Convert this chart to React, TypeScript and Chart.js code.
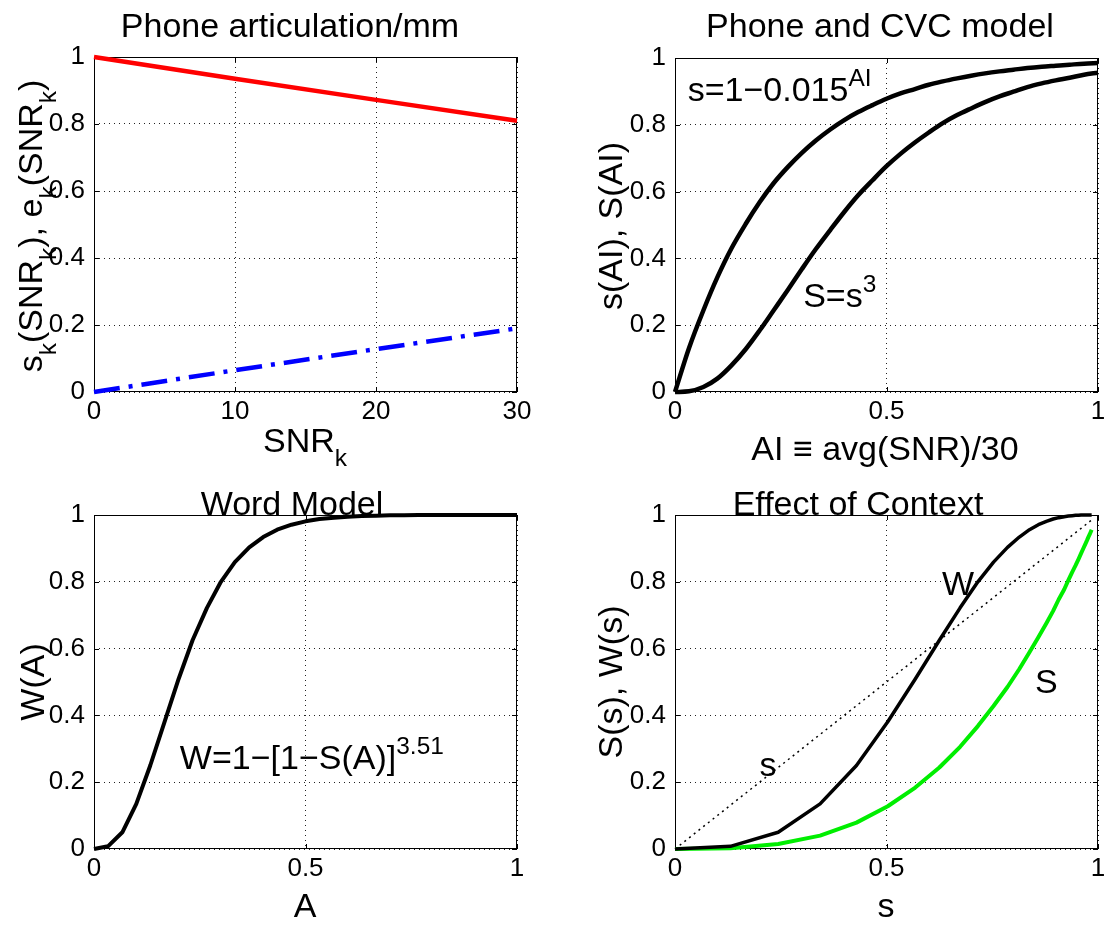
import React, { useEffect, useRef } from "react";
import { Chart, registerables } from "chart.js";

Chart.register(...registerables);

const FONT = '"Liberation Sans", Arial, Helvetica, sans-serif';

// ---- Panel 1: phone articulation vs SNR_k ----
const snrValues = [0, 10, 20, 30];
const phoneScore = [1.0, 0.935, 0.872, 0.81];
const phoneError = [0.0, 0.065, 0.128, 0.19];

// ---- Shared AI grid and model curves ----
const aiValues = [0, 0.033, 0.067, 0.1, 0.133, 0.167, 0.2, 0.233, 0.267, 0.3, 0.333, 0.367, 0.4, 0.433, 0.467, 0.5, 0.533, 0.567, 0.6, 0.633, 0.667, 0.7, 0.733, 0.767, 0.8, 0.833, 0.867, 0.9, 0.933, 0.967, 1];
const phoneModel = [0, 0.131, 0.244, 0.343, 0.429, 0.503, 0.568, 0.625, 0.674, 0.716, 0.753, 0.786, 0.814, 0.838, 0.859, 0.878, 0.894, 0.907, 0.92, 0.93, 0.939, 0.947, 0.954, 0.96, 0.965, 0.97, 0.974, 0.977, 0.98, 0.983, 0.985];
const cvcModel = [0, 0.002, 0.015, 0.04, 0.079, 0.128, 0.184, 0.244, 0.306, 0.368, 0.428, 0.485, 0.539, 0.589, 0.634, 0.676, 0.713, 0.747, 0.777, 0.805, 0.829, 0.849, 0.868, 0.885, 0.899, 0.913, 0.924, 0.933, 0.941, 0.95, 0.956];
const wordModel = [0, 0.008, 0.05, 0.135, 0.25, 0.381, 0.509, 0.625, 0.722, 0.8, 0.859, 0.903, 0.934, 0.956, 0.971, 0.981, 0.988, 0.992, 0.995, 0.997, 0.998, 0.999, 0.999, 1, 1, 1, 1, 1, 1, 1, 1];

// ---- Tick values ----
const yTicks = [0, 0.2, 0.4, 0.6, 0.8, 1];
const snrTicks = [0, 10, 20, 30];
const unitTicks = [0, 0.5, 1];

const W = 1106;
const H = 926;
const TICK_SIZE = 26;
const TEXT_SIZE = 34;

type Seg = { t: string; k?: "sub" | "sup" };
type Note = { segs: Seg[]; x: number; y: number };
type Panel = {
  box: { l: number; t: number; r: number; b: number };
  xMax: number;
  xTicks: number[];
  datasets: any[];
  title: { segs: Seg[]; cx: number; by: number };
  xLabel: { segs: Seg[]; cx: number; by: number };
  yLabel: { segs: Seg[]; bx: number; cy: number };
  notes: Note[];
};

const pts = (xs: number[], ys: number[]) => xs.map((x, i) => ({ x, y: ys[i] }));

const lineDs = (data: any[], color: string, width: number, extra: any = {}) => ({
  data,
  borderColor: color,
  backgroundColor: color,
  borderWidth: width,
  pointRadius: 0,
  fill: false,
  tension: 0,
  clip: false,
  borderJoinStyle: "round",
  ...extra,
});

const panels: Panel[] = [
  {
    box: { l: 94, t: 57, r: 517, b: 392 },
    xMax: 30,
    xTicks: snrTicks,
    datasets: [
      lineDs(pts(snrValues, phoneScore), "#ff0000", 4.5),
      lineDs(pts(snrValues, phoneError), "#0000ff", 4.5, { borderDash: [26, 9, 4, 9], borderCapStyle: "butt" }),
    ],
    title: { segs: [{ t: "Phone articulation/mm" }], cx: 290, by: 37 },
    xLabel: { segs: [{ t: "SNR" }, { t: "k", k: "sub" }], cx: 305, by: 452 },
    yLabel: {
      segs: [
        { t: "s" }, { t: "k", k: "sub" }, { t: "(SNR" }, { t: "k", k: "sub" }, { t: "), e" },
        { t: "k", k: "sub" }, { t: "(SNR" }, { t: "k", k: "sub" }, { t: ")" },
      ],
      bx: 42,
      cy: 226,
    },
    notes: [],
  },
  {
    box: { l: 675, t: 58, r: 1098, b: 392 },
    xMax: 1,
    xTicks: unitTicks,
    datasets: [
      lineDs(pts(aiValues, phoneModel), "#000000", 4.5, { cubicInterpolationMode: "monotone" }),
      lineDs(pts(aiValues, cvcModel), "#000000", 4.5, { cubicInterpolationMode: "monotone" }),
    ],
    title: { segs: [{ t: "Phone and CVC model" }], cx: 880, by: 37 },
    xLabel: { segs: [{ t: "AI \u2261 avg(SNR)/30" }], cx: 885, by: 460 },
    yLabel: { segs: [{ t: "s(AI), S(AI)" }], bx: 622, cy: 226 },
    notes: [
      { segs: [{ t: "s=1\u22120.015" }, { t: "AI", k: "sup" }], x: 0.03, y: 0.87 },
      { segs: [{ t: "S=s" }, { t: "3", k: "sup" }], x: 0.303, y: 0.255 },
    ],
  },
  {
    box: { l: 94, t: 515, r: 517, b: 849 },
    xMax: 1,
    xTicks: unitTicks,
    datasets: [lineDs(pts(aiValues, wordModel), "#000000", 4)],
    title: { segs: [{ t: "Word Model" }], cx: 292, by: 515 },
    xLabel: { segs: [{ t: "A" }], cx: 305, by: 917 },
    yLabel: { segs: [{ t: "W(A)" }], bx: 44, cy: 682 },
    notes: [{ segs: [{ t: "W=1\u2212[1\u2212S(A)]" }, { t: "3.51", k: "sup" }], x: 0.203, y: 0.24 }],
  },
  {
    box: { l: 675, t: 515, r: 1098, b: 849 },
    xMax: 1,
    xTicks: unitTicks,
    datasets: [
      lineDs(pts(phoneModel, wordModel), "#000000", 3.5),
      lineDs(pts(phoneModel, cvcModel), "#00ee00", 4),
      lineDs(pts(phoneModel, phoneModel), "#000000", 1.5, { borderDash: [2, 4], borderCapStyle: "butt" }),
    ],
    title: { segs: [{ t: "Effect of Context" }], cx: 858, by: 515 },
    xLabel: { segs: [{ t: "s" }], cx: 886, by: 917 },
    yLabel: { segs: [{ t: "S(s), W(s)" }], bx: 622, cy: 682 },
    notes: [
      { segs: [{ t: "W" }], x: 0.631, y: 0.76 },
      { segs: [{ t: "S" }], x: 0.851, y: 0.467 },
      { segs: [{ t: "s" }], x: 0.2, y: 0.22 },
    ],
  },
];

function drawSegs(ctx: CanvasRenderingContext2D, segs: Seg[], x: number, y: number, size: number, align: "left" | "center") {
  const small = size * 0.72;
  const fontFor = (s: Seg) => `${s.k ? small : size}px ${FONT}`;
  let total = 0;
  for (const s of segs) {
    ctx.font = fontFor(s);
    total += ctx.measureText(s.t).width;
  }
  let cx = align === "center" ? x - total / 2 : x;
  ctx.textAlign = "left";
  ctx.textBaseline = "alphabetic";
  for (const s of segs) {
    ctx.font = fontFor(s);
    const dy = s.k === "sub" ? size * 0.42 : s.k === "sup" ? -size * 0.45 : 0;
    ctx.fillText(s.t, cx, y + dy);
    cx += ctx.measureText(s.t).width;
  }
}

function framePlugin(p: Panel) {
  return {
    id: "matlabFrame",
    beforeDatasetsDraw(chart: any) {
      const { ctx, chartArea: a } = chart;
      const xs = chart.scales.x;
      const ys = chart.scales.y;
      ctx.save();
      ctx.setLineDash([]);
      ctx.strokeStyle = "#000";
      ctx.lineWidth = 1;
      ctx.strokeRect(a.left + 0.5, a.top + 0.5, a.right - a.left - 1, a.bottom - a.top - 1);
      const len = 5;
      ctx.beginPath();
      for (const v of p.xTicks) {
        const px = Math.round(xs.getPixelForValue(v)) + 0.5;
        ctx.moveTo(px, a.bottom);
        ctx.lineTo(px, a.bottom - len);
        ctx.moveTo(px, a.top);
        ctx.lineTo(px, a.top + len);
      }
      for (const v of yTicks) {
        const py = Math.round(ys.getPixelForValue(v)) + 0.5;
        ctx.moveTo(a.left, py);
        ctx.lineTo(a.left + len, py);
        ctx.moveTo(a.right, py);
        ctx.lineTo(a.right - len, py);
      }
      ctx.stroke();
      ctx.restore();
    },
    afterDraw(chart: any) {
      const { ctx } = chart;
      const xs = chart.scales.x;
      const ys = chart.scales.y;
      ctx.save();
      ctx.fillStyle = "#000";
      drawSegs(ctx, p.title.segs, p.title.cx, p.title.by, TEXT_SIZE, "center");
      drawSegs(ctx, p.xLabel.segs, p.xLabel.cx, p.xLabel.by, TEXT_SIZE, "center");
      ctx.save();
      ctx.translate(p.yLabel.bx, p.yLabel.cy);
      ctx.rotate(-Math.PI / 2);
      drawSegs(ctx, p.yLabel.segs, 0, 0, TEXT_SIZE, "center");
      ctx.restore();
      for (const n of p.notes) {
        drawSegs(ctx, n.segs, xs.getPixelForValue(n.x), ys.getPixelForValue(n.y), TEXT_SIZE, "left");
      }
      ctx.restore();
    },
  };
}

function buildConfig(p: Panel): any {
  const yAxisW = 60;
  const xAxisH = 40;
  const tickFont = { family: FONT, size: TICK_SIZE };
  return {
    type: "line",
    data: { datasets: p.datasets },
    options: {
      responsive: false,
      animation: false,
      events: [],
      layout: {
        padding: {
          left: p.box.l - yAxisW,
          top: p.box.t,
          right: W - p.box.r,
          bottom: H - p.box.b - xAxisH,
        },
      },
      plugins: {
        legend: { display: false },
        tooltip: { enabled: false },
        title: { display: false },
      },
      scales: {
        x: {
          type: "linear",
          min: 0,
          max: p.xMax,
          afterBuildTicks: (s: any) => {
            s.ticks = p.xTicks.map((v) => ({ value: v }));
          },
          afterFit: (s: any) => {
            s.height = xAxisH;
            s.paddingLeft = 0;
            s.paddingRight = 0;
          },
          ticks: {
            color: "#000",
            font: tickFont,
            padding: 4,
            maxRotation: 0,
            autoSkip: false,
            callback: (v: any) => String(v),
          },
          grid: { color: "#222", lineWidth: 1, drawTicks: false },
          border: { display: false, dash: [1, 4] },
        },
        y: {
          type: "linear",
          min: 0,
          max: 1,
          afterBuildTicks: (s: any) => {
            s.ticks = yTicks.map((v) => ({ value: v }));
          },
          afterFit: (s: any) => {
            s.width = yAxisW;
            s.paddingTop = 0;
            s.paddingBottom = 0;
          },
          ticks: {
            color: "#000",
            font: tickFont,
            padding: 9,
            autoSkip: false,
            callback: (v: any) => String(v),
          },
          grid: { color: "#222", lineWidth: 1, drawTicks: false },
          border: { display: false, dash: [1, 4] },
        },
      },
    },
    plugins: [framePlugin(p)],
  };
}

export default function App() {
  const canvases = useRef<(HTMLCanvasElement | null)[]>([]);
  useEffect(() => {
    const charts = panels.map((p, i) => new Chart(canvases.current[i] as HTMLCanvasElement, buildConfig(p)));
    return () => charts.forEach((c) => c.destroy());
  }, []);
  return (
    <div style={{ position: "absolute", left: 0, top: 0, width: W, height: H, background: "#fff" }}>
      {panels.map((_, i) => (
        <canvas
          key={i}
          ref={(el) => {
            canvases.current[i] = el;
          }}
          width={W}
          height={H}
          style={{ position: "absolute", left: 0, top: 0, width: W, height: H }}
        />
      ))}
    </div>
  );
}
